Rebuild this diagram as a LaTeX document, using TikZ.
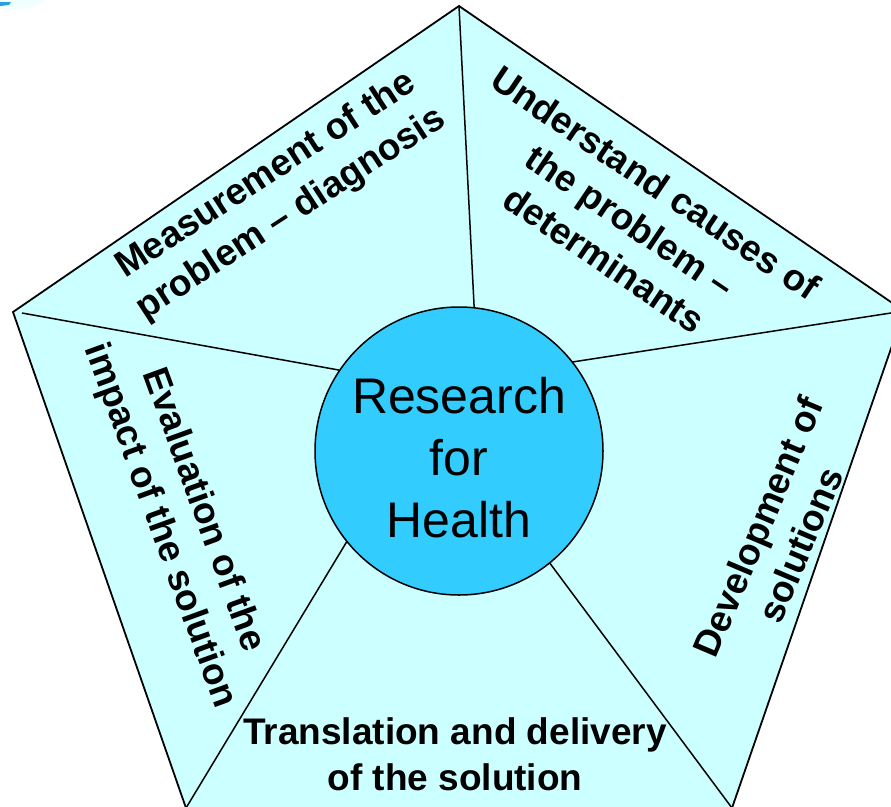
\documentclass[tikz,border=0pt]{standalone}
\usepackage{fontspec}
\setmainfont{Liberation Sans}
\definecolor{pent}{HTML}{CCFFFF}
\definecolor{circ}{HTML}{33CCFF}
\definecolor{smudge}{HTML}{2A9FE0}
\begin{document}
\begin{tikzpicture}[x=1pt,y=-1pt,
  lbl/.style={font=\fontsize{37}{46}\selectfont\bfseries, align=center, inner sep=0pt},
  edgeline/.style={draw=black, line width=1.8pt, line join=miter},
  spoke/.style={draw=black, line width=1.5pt},
  hub/.style={circle, minimum size=288pt, inner sep=0pt, fill=circ, draw=black, line width=1.5pt}]
\useasboundingbox (0,0) rectangle (891,806);
\begin{scope}
\clip (0,0) rectangle (891,806);
% faint smudge top-left
\fill[pent!50!white, opacity=0.5] (0,0) ellipse [x radius=45pt, y radius=10pt];
\fill[smudge] (0,2) -- (11,2) -- (9,5) -- (0,6) -- cycle;
% pentagon vertices
\coordinate (T) at (459,6);
\coordinate (R) at (904,311);
\coordinate (BR) at (732,808);
\coordinate (BL) at (186,808);
\coordinate (L) at (13,312);
\coordinate (L2) at (22,313);
\filldraw[fill=pent, edgeline] (T) -- (R) -- (BR) -- (BL) -- (L) -- cycle;
\node[hub] (c) at (459,451) {};
\draw[spoke] (c.84.4) -- (T);
\draw[spoke] (c.38.5) -- (R);
\draw[spoke] (c.-51.2) -- (BR);
\draw[spoke] (c.219.4) -- (BL);
\draw[spoke] (c.146.8) -- (L2);
\end{scope}
\node[font=\fontsize{50}{62}\selectfont, align=center, inner sep=0pt] (rfh) at (459,458) {Research\\for\\Health};
\node[lbl, rotate=33] (meas) at (279,195) {Measurement of the\\problem -- diagnosis};
\node[lbl, rotate=-34] (und) at (630,221) {Understand causes of\\the problem --\\determinants};
\node[lbl, rotate=-70] (eval) at (181,518) {Evaluation of the\\impact of the solution};
\node[lbl, rotate=67] (dev) at (779,536) {Development of\\solutions};
\node[lbl] (trans) at (455,754) {Translation and delivery\\of the solution};
\end{tikzpicture}
\end{document}
